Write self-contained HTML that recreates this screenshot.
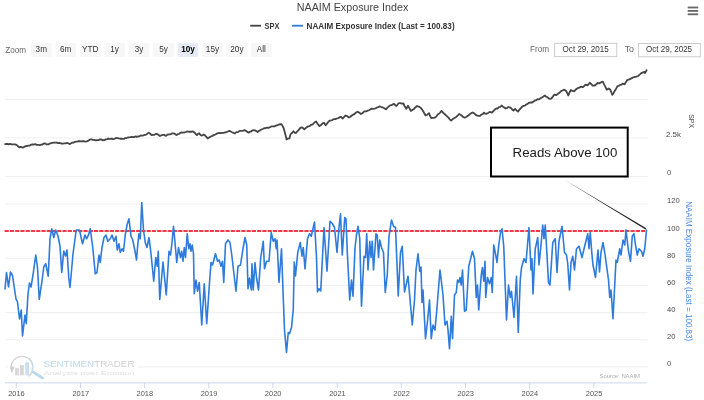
<!DOCTYPE html>
<html><head><meta charset="utf-8"><style>
html,body{margin:0;padding:0;background:#ffffff;}
body{width:704px;height:400px;overflow:hidden;}
svg{display:block;font-family:"Liberation Sans", sans-serif;filter:blur(0.3px);}
</style></head><body>
<svg width="704" height="400" viewBox="0 0 704 400">
<rect width="704" height="400" fill="#ffffff"/>
<text x="352.5" y="10.9" font-size="10.2" fill="#444444" font-weight="400" text-anchor="middle" textLength="111.5" lengthAdjust="spacingAndGlyphs" >NAAIM Exposure Index</text>
<line x1="250.2" y1="25.7" x2="261" y2="25.7" stroke="#434348" stroke-width="1.8"/>
<text x="264.6" y="28.8" font-size="8.2" fill="#333333" font-weight="700" text-anchor="start" textLength="14.8" lengthAdjust="spacingAndGlyphs" >SPX</text>
<line x1="292" y1="25.7" x2="303" y2="25.7" stroke="#2e7cdc" stroke-width="1.8"/>
<text x="306.6" y="28.8" font-size="8.2" fill="#333333" font-weight="700" text-anchor="start" textLength="148" lengthAdjust="spacingAndGlyphs" >NAAIM Exposure Index (Last = 100.83)</text>
<line x1="687.7" y1="7.5" x2="698.2" y2="7.5" stroke="#666666" stroke-width="1.8"/>
<line x1="687.7" y1="10.9" x2="698.2" y2="10.9" stroke="#666666" stroke-width="1.8"/>
<line x1="687.7" y1="14.3" x2="698.2" y2="14.3" stroke="#666666" stroke-width="1.8"/>
<text x="5.2" y="53" font-size="8.2" fill="#666666" font-weight="400" text-anchor="start" textLength="20.8" lengthAdjust="spacingAndGlyphs" >Zoom</text>
<rect x="31.00" y="43.1" width="20.6" height="13.8" fill="#f7f7f7"/>
<text x="41.3" y="52.2" font-size="8.2" fill="#333333" font-weight="400" text-anchor="middle" >3m</text>
<rect x="55.45" y="43.1" width="20.6" height="13.8" fill="#f7f7f7"/>
<text x="65.75" y="52.2" font-size="8.2" fill="#333333" font-weight="400" text-anchor="middle" >6m</text>
<rect x="79.90" y="43.1" width="20.6" height="13.8" fill="#f7f7f7"/>
<text x="90.2" y="52.2" font-size="8.2" fill="#333333" font-weight="400" text-anchor="middle" >YTD</text>
<rect x="104.35" y="43.1" width="20.6" height="13.8" fill="#f7f7f7"/>
<text x="114.65" y="52.2" font-size="8.2" fill="#333333" font-weight="400" text-anchor="middle" >1y</text>
<rect x="128.80" y="43.1" width="20.6" height="13.8" fill="#f7f7f7"/>
<text x="139.1" y="52.2" font-size="8.2" fill="#333333" font-weight="400" text-anchor="middle" >3y</text>
<rect x="153.25" y="43.1" width="20.6" height="13.8" fill="#f7f7f7"/>
<text x="163.55" y="52.2" font-size="8.2" fill="#333333" font-weight="400" text-anchor="middle" >5y</text>
<rect x="177.70" y="43.1" width="20.6" height="13.8" fill="#e6ebf5"/>
<text x="188.0" y="52.2" font-size="8.2" fill="#000000" font-weight="700" text-anchor="middle" >10y</text>
<rect x="202.15" y="43.1" width="20.6" height="13.8" fill="#f7f7f7"/>
<text x="212.45" y="52.2" font-size="8.2" fill="#333333" font-weight="400" text-anchor="middle" >15y</text>
<rect x="226.60" y="43.1" width="20.6" height="13.8" fill="#f7f7f7"/>
<text x="236.9" y="52.2" font-size="8.2" fill="#333333" font-weight="400" text-anchor="middle" >20y</text>
<rect x="251.05" y="43.1" width="20.6" height="13.8" fill="#f7f7f7"/>
<text x="261.35" y="52.2" font-size="8.2" fill="#333333" font-weight="400" text-anchor="middle" >All</text>
<text x="530" y="52.4" font-size="8.2" fill="#666666" font-weight="400" text-anchor="start" textLength="19.1" lengthAdjust="spacingAndGlyphs" >From</text>
<rect x="554.6" y="43.3" width="62.2" height="13.3" fill="#ffffff" stroke="#cccccc" stroke-width="1"/>
<text x="585.7" y="52.4" font-size="8.2" fill="#333333" font-weight="400" text-anchor="middle" textLength="46.2" lengthAdjust="spacingAndGlyphs" >Oct 29, 2015</text>
<text x="624.7" y="52.4" font-size="8.2" fill="#666666" font-weight="400" text-anchor="start" textLength="9.3" lengthAdjust="spacingAndGlyphs" >To</text>
<rect x="638.5" y="43.5" width="61.8" height="13.3" fill="#ffffff" stroke="#cccccc" stroke-width="1"/>
<text x="669.05" y="52.4" font-size="8.2" fill="#333333" font-weight="400" text-anchor="middle" textLength="46.1" lengthAdjust="spacingAndGlyphs" >Oct 29, 2025</text>
<line x1="5" y1="99.3" x2="647.5" y2="99.3" stroke="#ededed" stroke-width="0.9"/>
<line x1="5" y1="137.9" x2="647.5" y2="137.9" stroke="#ededed" stroke-width="0.9"/>
<line x1="5" y1="176.5" x2="647.5" y2="176.5" stroke="#ededed" stroke-width="0.9"/>
<line x1="5" y1="203.94" x2="647.5" y2="203.94" stroke="#ededed" stroke-width="0.9"/>
<line x1="5" y1="231.10" x2="647.5" y2="231.10" stroke="#ededed" stroke-width="0.9"/>
<line x1="5" y1="258.26" x2="647.5" y2="258.26" stroke="#ededed" stroke-width="0.9"/>
<line x1="5" y1="285.42" x2="647.5" y2="285.42" stroke="#ededed" stroke-width="0.9"/>
<line x1="5" y1="312.58" x2="647.5" y2="312.58" stroke="#ededed" stroke-width="0.9"/>
<line x1="5" y1="339.74" x2="647.5" y2="339.74" stroke="#ededed" stroke-width="0.9"/>
<line x1="5" y1="366.90" x2="647.5" y2="366.90" stroke="#ededed" stroke-width="0.9"/>
<text x="666" y="136.9" font-size="7.6" fill="#4a4a4a" font-weight="400" text-anchor="start" textLength="15" lengthAdjust="spacingAndGlyphs" >2.5k</text>
<text x="667" y="175.2" font-size="7.6" fill="#4a4a4a" font-weight="400" text-anchor="start" >0</text>
<text transform="translate(689,114.3) rotate(90)" font-size="7.8" fill="#4a4a4a" textLength="13.7" lengthAdjust="spacingAndGlyphs">SPX</text>
<text x="667" y="203" font-size="7.6" fill="#4a4a4a" font-weight="400" text-anchor="start" textLength="12.6" lengthAdjust="spacingAndGlyphs" >120</text>
<text x="667" y="230.5" font-size="7.6" fill="#4a4a4a" font-weight="400" text-anchor="start" textLength="12.6" lengthAdjust="spacingAndGlyphs" >100</text>
<text x="667" y="257.6" font-size="7.6" fill="#4a4a4a" font-weight="400" text-anchor="start" textLength="8.4" lengthAdjust="spacingAndGlyphs" >80</text>
<text x="667" y="284.6" font-size="7.6" fill="#4a4a4a" font-weight="400" text-anchor="start" textLength="8.4" lengthAdjust="spacingAndGlyphs" >60</text>
<text x="667" y="311.5" font-size="7.6" fill="#4a4a4a" font-weight="400" text-anchor="start" textLength="8.4" lengthAdjust="spacingAndGlyphs" >40</text>
<text x="667" y="338.6" font-size="7.6" fill="#4a4a4a" font-weight="400" text-anchor="start" textLength="8.4" lengthAdjust="spacingAndGlyphs" >20</text>
<text x="667" y="365.6" font-size="7.6" fill="#4a4a4a" font-weight="400" text-anchor="start" >0</text>
<text transform="translate(686.3,201.2) rotate(90)" font-size="8.2" fill="#4a8ae0" textLength="140" lengthAdjust="spacingAndGlyphs">NAAIM Exposure Index (Last = 100.83)</text>
<line x1="5" y1="382.9" x2="646.6" y2="382.9" stroke="#ccd6eb" stroke-width="1"/>
<line x1="16.24" y1="382.9" x2="16.24" y2="388.3" stroke="#ccd6eb" stroke-width="1"/>
<text x="16.44" y="395.7" font-size="7.5" fill="#555555" font-weight="400" text-anchor="middle" textLength="16.6" lengthAdjust="spacingAndGlyphs" >2016</text>
<line x1="80.55" y1="382.9" x2="80.55" y2="388.3" stroke="#ccd6eb" stroke-width="1"/>
<text x="80.75" y="395.7" font-size="7.5" fill="#555555" font-weight="400" text-anchor="middle" textLength="16.6" lengthAdjust="spacingAndGlyphs" >2017</text>
<line x1="144.67" y1="382.9" x2="144.67" y2="388.3" stroke="#ccd6eb" stroke-width="1"/>
<text x="144.87" y="395.7" font-size="7.5" fill="#555555" font-weight="400" text-anchor="middle" textLength="16.6" lengthAdjust="spacingAndGlyphs" >2018</text>
<line x1="208.80" y1="382.9" x2="208.80" y2="388.3" stroke="#ccd6eb" stroke-width="1"/>
<text x="209.0" y="395.7" font-size="7.5" fill="#555555" font-weight="400" text-anchor="middle" textLength="16.6" lengthAdjust="spacingAndGlyphs" >2019</text>
<line x1="272.93" y1="382.9" x2="272.93" y2="388.3" stroke="#ccd6eb" stroke-width="1"/>
<text x="273.13" y="395.7" font-size="7.5" fill="#555555" font-weight="400" text-anchor="middle" textLength="16.6" lengthAdjust="spacingAndGlyphs" >2020</text>
<line x1="337.23" y1="382.9" x2="337.23" y2="388.3" stroke="#ccd6eb" stroke-width="1"/>
<text x="337.43" y="395.7" font-size="7.5" fill="#555555" font-weight="400" text-anchor="middle" textLength="16.6" lengthAdjust="spacingAndGlyphs" >2021</text>
<line x1="401.36" y1="382.9" x2="401.36" y2="388.3" stroke="#ccd6eb" stroke-width="1"/>
<text x="401.56" y="395.7" font-size="7.5" fill="#555555" font-weight="400" text-anchor="middle" textLength="16.6" lengthAdjust="spacingAndGlyphs" >2022</text>
<line x1="465.48" y1="382.9" x2="465.48" y2="388.3" stroke="#ccd6eb" stroke-width="1"/>
<text x="465.68" y="395.7" font-size="7.5" fill="#555555" font-weight="400" text-anchor="middle" textLength="16.6" lengthAdjust="spacingAndGlyphs" >2023</text>
<line x1="529.61" y1="382.9" x2="529.61" y2="388.3" stroke="#ccd6eb" stroke-width="1"/>
<text x="529.81" y="395.7" font-size="7.5" fill="#555555" font-weight="400" text-anchor="middle" textLength="16.6" lengthAdjust="spacingAndGlyphs" >2024</text>
<line x1="593.91" y1="382.9" x2="593.91" y2="388.3" stroke="#ccd6eb" stroke-width="1"/>
<text x="594.11" y="395.7" font-size="7.5" fill="#555555" font-weight="400" text-anchor="middle" textLength="16.6" lengthAdjust="spacingAndGlyphs" >2025</text>
<rect x="8" y="354" width="130" height="27" fill="#ffffff"/>
<path d="M12.2 372.5 A11 11 0 1 1 28.5 376.3" fill="none" stroke="#d2d2d2" stroke-width="1.3"/><path d="M9.8 366.5 L12.4 371.8 L14.6 366.8 Z" fill="#cfcfcf"/><path d="M29.5 358.8 A11 11 0 0 1 31.9 370" fill="none" stroke="#c5dceb" stroke-width="1.3"/><rect x="15.1" y="368.1" width="3.8" height="7.2" fill="#dadada"/><rect x="20" y="365.1" width="3.8" height="10.2" fill="#d6d6d6"/><rect x="25.2" y="362.1" width="3.8" height="13.2" rx="1.5" fill="#c9dff0"/><line x1="33.5" y1="372.3" x2="42.5" y2="377.9" stroke="#bcd8ea" stroke-width="3" stroke-linecap="round"/>
<text x="43.5" y="367.3" font-size="9.8" fill="#333333" font-weight="400" text-anchor="start" textLength="91" lengthAdjust="spacingAndGlyphs" ><tspan fill="#bcd6ea">SENTIMEN</tspan><tspan fill="#cfcfcf">TRADER</tspan></text>
<text x="43.5" y="374.9" font-size="5.6" fill="#e0e0e0" font-weight="400" text-anchor="start" textLength="91" lengthAdjust="spacingAndGlyphs" >Analysis over Emotion</text>
<text x="599.5" y="377.6" font-size="6" fill="#aaaaaa" font-weight="400" text-anchor="start" textLength="40.5" lengthAdjust="spacingAndGlyphs" >Source: NAAIM</text>
<line x1="4.6" y1="231" x2="646.6" y2="231" stroke="#f03a48" stroke-width="1.9" stroke-dasharray="4.2 1.06"/>
<path d="M5.10 144.10 L6.36 144.00 L7.62 143.91 L8.88 144.42 L10.14 143.96 L11.40 144.40 L12.70 144.43 L14.00 144.28 L15.30 144.40 L16.63 144.97 L17.97 146.34 L19.30 147.30 L20.63 146.95 L21.97 147.37 L23.30 147.50 L24.57 146.64 L25.85 146.18 L27.12 146.01 L28.40 145.60 L29.76 145.59 L31.12 144.66 L32.48 144.45 L33.84 144.51 L35.20 144.10 L36.73 144.87 L38.27 144.90 L39.80 145.20 L41.12 144.57 L42.43 144.56 L43.75 143.60 L45.27 143.46 L46.78 144.46 L48.30 144.40 L49.45 143.66 L50.60 143.30 L52.15 142.83 L53.70 142.66 L55.25 142.68 L56.80 142.70 L58.07 143.18 L59.35 142.81 L60.62 143.37 L61.90 143.50 L63.16 143.59 L64.42 143.31 L65.68 143.42 L66.94 142.95 L68.20 143.30 L69.90 144.10 L71.18 143.13 L72.45 142.69 L73.72 142.54 L75.00 141.80 L76.50 141.55 L78.00 141.27 L79.50 141.25 L80.96 141.36 L82.42 141.27 L83.88 141.16 L85.34 141.63 L86.80 141.40 L88.50 140.58 L90.20 139.40 L91.56 139.33 L92.92 139.79 L94.28 139.90 L95.64 140.38 L97.00 140.20 L98.33 140.14 L99.67 139.48 L101.00 139.40 L102.70 140.23 L104.40 140.20 L105.73 139.32 L107.07 139.06 L108.40 138.60 L109.93 139.00 L111.47 138.62 L113.00 139.10 L114.50 138.76 L116.00 138.02 L117.50 138.10 L118.78 138.45 L120.05 138.74 L121.32 138.77 L122.60 138.90 L123.88 138.89 L125.15 138.03 L126.42 138.03 L127.70 137.50 L129.03 137.40 L130.37 137.21 L131.70 136.91 L133.03 137.07 L134.37 136.98 L135.70 136.40 L136.80 136.80 L138.13 136.46 L139.47 136.31 L140.80 135.45 L142.13 135.71 L143.47 135.35 L144.80 134.90 L146.12 134.58 L147.43 133.66 L148.75 132.60 L150.18 133.71 L151.60 135.20 L153.03 134.82 L154.45 134.80 L155.88 133.95 L157.30 134.10 L158.65 135.02 L160.00 136.00 L161.33 135.30 L162.67 134.86 L164.00 134.80 L165.70 135.90 L167.40 134.70 L169.10 134.30 L170.60 134.24 L172.10 133.37 L173.60 133.40 L175.05 134.02 L176.50 135.10 L177.83 134.24 L179.17 133.90 L180.50 132.80 L181.80 132.32 L183.10 132.55 L184.40 132.50 L185.85 131.99 L187.30 131.40 L188.73 131.75 L190.15 131.69 L191.57 131.73 L193.00 131.40 L194.30 132.43 L195.60 133.79 L196.90 135.10 L198.05 134.02 L199.20 133.20 L200.35 134.70 L201.50 135.50 L202.62 135.41 L203.75 134.50 L205.07 135.52 L206.38 136.88 L207.70 138.50 L209.23 137.39 L210.77 136.53 L212.30 135.90 L213.80 135.12 L215.30 134.45 L216.80 133.60 L218.16 133.23 L219.52 132.83 L220.88 133.05 L222.24 132.84 L223.60 132.80 L225.03 132.38 L226.45 132.26 L227.88 131.55 L229.30 130.90 L230.73 131.54 L232.15 132.26 L233.57 132.93 L235.00 133.40 L236.50 132.17 L238.00 132.09 L239.50 130.90 L240.75 130.95 L242.00 130.84 L243.25 130.57 L244.50 130.10 L245.83 130.87 L247.17 131.74 L248.50 132.70 L249.78 131.69 L251.05 131.52 L252.32 130.36 L253.60 130.10 L254.93 130.34 L256.27 131.10 L257.60 132.00 L258.88 130.95 L260.15 130.36 L261.43 129.35 L262.70 129.00 L264.12 128.25 L265.55 128.09 L266.97 127.74 L268.40 127.80 L269.93 127.21 L271.47 126.44 L273.00 126.40 L274.50 126.34 L276.00 125.70 L277.50 125.20 L278.83 124.52 L280.17 124.24 L281.50 124.10 L282.62 126.11 L283.75 128.40 L285.18 133.83 L286.60 139.50 L288.00 138.61 L289.40 138.40 L290.60 134.10 L292.00 132.99 L293.40 131.25 L294.55 132.57 L295.70 133.00 L297.12 131.54 L298.55 130.14 L299.97 128.35 L301.40 127.30 L302.80 127.94 L304.20 129.30 L305.53 128.19 L306.87 127.15 L308.20 126.40 L309.70 126.03 L311.20 124.76 L312.70 124.40 L314.40 122.47 L316.10 121.40 L317.80 124.16 L319.50 126.10 L321.00 124.99 L322.50 123.52 L324.00 122.70 L325.70 125.30 L327.10 123.49 L328.50 121.60 L329.77 120.55 L331.05 120.38 L332.33 120.16 L333.60 119.10 L335.30 119.13 L337.00 118.50 L338.33 118.11 L339.67 117.15 L341.00 116.80 L342.70 118.50 L344.15 116.88 L345.60 115.50 L347.30 116.15 L349.00 117.40 L350.40 116.69 L351.80 115.50 L353.23 114.58 L354.65 113.85 L356.07 112.50 L357.50 111.70 L359.20 112.60 L360.90 114.00 L362.60 112.98 L364.30 111.40 L366.00 111.44 L367.70 110.60 L369.03 110.25 L370.37 109.54 L371.70 108.60 L373.03 108.79 L374.37 108.62 L375.70 108.30 L377.03 107.42 L378.37 107.05 L379.70 106.40 L381.25 107.02 L382.80 107.48 L384.35 108.23 L385.90 109.40 L387.23 107.90 L388.57 106.58 L389.90 105.50 L391.23 105.09 L392.57 104.74 L393.90 103.75 L395.00 104.83 L396.10 106.00 L397.25 105.09 L398.40 103.40 L400.00 103.00 L401.70 103.64 L403.40 103.40 L404.82 106.56 L406.25 108.90 L408.00 105.70 L409.40 108.18 L410.80 110.90 L412.20 109.90 L413.60 109.40 L415.30 107.45 L417.00 106.00 L418.75 106.58 L420.50 107.70 L421.90 109.28 L423.30 111.40 L424.45 113.56 L425.60 115.50 L427.30 114.71 L429.00 113.20 L430.12 116.01 L431.25 118.20 L432.57 117.91 L433.88 117.80 L435.20 117.40 L436.46 116.37 L437.72 114.43 L438.98 113.64 L440.24 112.57 L441.50 110.90 L442.83 112.45 L444.17 113.73 L445.50 114.80 L446.90 116.21 L448.30 117.36 L449.70 119.34 L451.10 120.50 L452.80 119.10 L454.50 118.00 L456.03 116.94 L457.57 115.76 L459.10 114.00 L460.53 114.83 L461.95 115.76 L463.38 117.18 L464.80 117.70 L466.50 116.80 L468.20 115.50 L469.70 114.20 L471.20 113.16 L472.70 112.50 L474.40 113.49 L476.10 115.10 L477.40 115.73 L478.70 115.91 L480.00 115.90 L481.33 114.51 L482.67 114.06 L484.00 112.70 L485.12 113.73 L486.25 113.90 L487.98 113.04 L489.70 111.90 L490.80 112.17 L491.90 112.70 L493.60 110.94 L495.30 109.10 L496.45 108.47 L497.60 108.50 L498.93 107.06 L500.27 106.92 L501.60 105.50 L502.93 106.63 L504.27 107.52 L505.60 108.50 L507.00 108.14 L508.40 107.00 L509.55 107.29 L510.70 107.70 L512.10 109.43 L513.50 110.50 L515.20 108.90 L516.60 110.54 L518.00 111.60 L519.53 109.56 L521.07 107.81 L522.60 106.25 L523.75 105.79 L524.90 105.70 L526.23 104.50 L527.57 103.84 L528.90 102.80 L530.60 102.43 L532.30 102.50 L533.57 101.58 L534.85 100.47 L536.12 100.32 L537.40 99.10 L539.10 99.40 L540.52 98.29 L541.95 97.41 L543.38 96.55 L544.80 95.50 L546.07 96.71 L547.35 97.13 L548.62 98.43 L549.90 98.90 L551.60 98.30 L553.00 96.40 L554.40 94.50 L556.10 95.20 L557.40 94.23 L558.70 93.22 L560.00 92.20 L561.27 90.93 L562.53 90.48 L563.80 89.70 L565.10 90.21 L566.40 91.30 L568.30 95.50 L569.60 92.30 L570.90 90.00 L572.50 90.92 L574.10 91.30 L575.70 89.56 L577.30 88.40 L578.57 87.78 L579.83 87.40 L581.10 86.60 L583.00 87.10 L584.30 85.90 L585.60 84.60 L587.50 85.30 L588.75 83.89 L590.00 82.80 L591.30 84.22 L592.60 85.60 L593.90 85.50 L595.20 85.30 L596.45 84.31 L597.70 82.80 L599.60 83.30 L601.20 82.15 L602.80 81.70 L604.10 84.42 L605.40 86.81 L606.70 89.70 L608.60 88.40 L609.90 89.20 L611.15 91.80 L612.40 94.80 L613.67 92.90 L614.95 90.51 L616.23 88.41 L617.50 86.20 L618.80 85.78 L620.10 84.90 L621.40 84.67 L622.70 83.70 L624.60 84.30 L625.85 82.20 L627.10 80.20 L628.70 79.65 L630.30 78.90 L631.90 78.10 L633.50 77.30 L635.00 76.88 L636.50 76.61 L638.00 76.00 L639.27 74.89 L640.53 73.90 L641.80 72.80 L643.10 72.33 L644.40 71.90 L645.00 73.00 L646.60 70.20" fill="none" stroke="#454545" stroke-width="1.8" stroke-linejoin="round" stroke-linecap="round"/>
<path d="M5.00 289.00 L6.50 272.50 L8.50 287.00 L10.50 272.00 L12.50 275.50 L16.00 299.00 L17.50 302.00 L19.50 319.00 L21.25 310.00 L22.50 336.00 L25.00 315.00 L26.25 323.75 L28.00 294.00 L29.50 283.00 L31.00 287.00 L33.00 275.00 L35.75 255.00 L37.50 267.50 L39.25 299.50 L42.00 281.00 L43.75 267.00 L45.75 263.75 L48.25 276.25 L50.00 238.75 L51.75 228.75 L53.75 237.50 L55.75 230.00 L58.00 236.00 L60.00 246.00 L61.75 272.50 L63.75 251.00 L65.50 256.00 L67.00 250.00 L68.75 277.50 L70.00 287.50 L73.00 253.75 L76.25 230.00 L79.50 230.00 L82.50 243.75 L85.00 235.00 L86.50 238.75 L88.50 235.00 L90.25 228.75 L92.75 247.50 L95.25 273.75 L97.00 272.50 L99.00 255.00 L100.25 262.50 L102.00 247.50 L104.00 237.50 L106.00 235.00 L107.75 241.25 L110.25 238.75 L112.00 235.00 L114.00 241.25 L116.00 236.25 L117.25 250.00 L119.00 243.75 L120.25 252.50 L122.00 248.75 L123.50 251.25 L125.25 235.00 L127.00 225.00 L129.00 218.75 L131.00 236.25 L132.75 240.00 L135.25 252.50 L136.50 260.00 L137.75 245.00 L139.00 233.75 L140.25 238.75 L141.75 202.50 L143.50 230.00 L145.25 242.50 L147.00 247.50 L149.00 237.50 L151.00 253.75 L153.75 281.25 L155.75 257.50 L157.25 266.25 L158.25 251.25 L159.75 299.50 L163.00 262.00 L166.25 295.00 L169.00 251.25 L170.50 255.00 L171.75 245.00 L173.50 226.25 L175.00 242.50 L176.75 262.50 L178.50 247.50 L180.50 257.50 L181.75 251.25 L183.00 261.25 L184.25 247.50 L185.50 257.50 L187.25 233.75 L188.75 248.75 L190.00 243.75 L191.00 251.25 L192.25 245.00 L193.50 253.75 L194.25 293.75 L196.00 280.00 L197.50 291.25 L199.25 282.50 L201.75 325.00 L204.25 283.75 L206.75 323.75 L209.25 286.25 L211.00 262.50 L212.50 265.00 L215.50 253.75 L217.50 261.25 L219.25 260.00 L221.00 266.25 L222.50 261.25 L223.75 282.50 L225.50 243.75 L228.00 240.00 L230.00 242.50 L231.75 255.00 L233.50 270.00 L236.00 291.25 L238.00 266.25 L240.50 265.00 L243.00 248.75 L245.00 237.50 L246.75 245.00 L248.00 288.75 L249.50 278.00 L251.25 290.00 L252.00 263.75 L253.25 290.00 L255.00 262.50 L256.50 277.50 L258.50 290.00 L260.75 257.50 L263.25 241.25 L264.50 268.75 L266.50 261.25 L269.00 261.25 L271.25 232.50 L273.25 241.25 L275.00 238.75 L276.25 248.75 L277.00 240.00 L279.00 282.50 L281.50 248.75 L283.25 297.50 L284.50 330.00 L286.50 352.50 L288.25 332.50 L289.50 333.75 L291.50 327.50 L293.25 310.00 L294.25 262.00 L295.50 276.00 L297.75 252.50 L300.25 242.50 L302.00 256.25 L303.25 247.50 L305.00 269.00 L307.50 238.75 L309.50 233.75 L311.25 236.25 L314.50 222.00 L316.50 257.50 L317.50 292.00 L319.00 288.75 L320.75 291.00 L324.00 227.50 L327.00 271.25 L330.00 221.25 L332.50 223.75 L334.50 227.50 L337.00 252.50 L339.00 227.50 L340.50 213.75 L342.25 255.00 L344.75 217.50 L346.00 218.75 L347.25 251.25 L349.75 300.00 L351.50 280.00 L353.00 296.25 L355.00 248.00 L356.50 235.00 L358.00 226.25 L359.75 238.75 L361.50 306.25 L364.00 256.25 L365.50 257.50 L366.75 233.75 L368.00 270.00 L369.75 241.25 L371.00 257.50 L372.25 241.25 L373.50 270.00 L376.00 233.75 L377.25 235.00 L378.50 257.50 L379.75 240.00 L381.50 247.50 L383.50 252.50 L385.25 292.50 L387.25 275.00 L389.00 236.25 L391.50 220.00 L393.50 226.25 L395.50 227.50 L398.25 296.00 L400.50 252.50 L402.25 246.25 L404.50 292.00 L408.00 276.25 L412.25 325.00 L414.50 300.00 L416.00 270.00 L418.00 253.75 L419.75 271.25 L421.00 267.00 L422.00 302.50 L423.00 290.00 L425.50 338.75 L427.50 321.25 L429.50 300.00 L431.25 338.75 L433.00 325.00 L435.00 330.00 L437.00 307.50 L440.00 270.00 L443.00 295.00 L445.00 325.00 L447.00 321.25 L448.00 330.00 L449.50 348.75 L451.25 316.25 L452.50 338.75 L454.50 295.00 L456.25 292.50 L457.50 280.00 L458.75 282.50 L460.00 277.50 L461.25 285.00 L462.50 270.00 L464.50 311.25 L466.25 310.00 L468.75 266.25 L472.50 251.25 L474.50 258.75 L476.25 297.50 L477.50 285.00 L478.75 310.00 L481.25 275.00 L482.50 267.50 L483.75 281.25 L485.00 261.25 L485.75 297.50 L487.50 277.50 L489.50 283.75 L491.25 277.50 L492.25 292.50 L493.75 245.00 L495.50 253.75 L497.00 262.50 L498.75 245.00 L500.50 232.50 L502.00 228.75 L503.75 246.25 L506.50 320.00 L508.50 285.00 L510.25 297.50 L511.50 291.25 L514.00 317.50 L516.50 276.25 L518.25 332.50 L520.25 280.00 L521.50 267.50 L524.00 258.75 L526.00 262.50 L529.00 227.50 L531.00 270.00 L532.00 258.75 L533.00 294.00 L535.25 248.75 L537.75 237.50 L539.00 265.00 L541.00 245.00 L542.75 225.00 L544.00 238.75 L545.25 225.00 L546.50 246.25 L548.50 282.50 L550.00 285.00 L552.75 242.50 L555.25 238.75 L557.00 272.50 L559.00 241.25 L562.00 226.25 L564.50 252.50 L566.50 255.00 L567.75 263.75 L569.50 290.00 L571.00 262.50 L572.75 256.25 L574.50 270.00 L576.50 248.75 L579.00 246.25 L582.00 257.50 L585.25 243.75 L587.75 233.75 L589.00 248.75 L590.25 232.50 L592.00 255.00 L593.00 265.00 L595.50 277.50 L598.00 250.00 L599.50 272.00 L601.00 252.50 L603.00 242.50 L604.75 252.50 L608.50 280.00 L609.75 297.50 L611.00 290.00 L613.00 318.75 L616.00 260.00 L617.25 262.50 L619.75 248.75 L621.00 255.00 L623.00 240.00 L624.75 245.00 L626.00 230.00 L628.50 251.25 L630.50 261.25 L632.25 236.25 L634.00 233.75 L635.50 245.00 L637.25 255.00 L639.00 248.75 L641.50 251.25 L643.00 256.25 L644.75 248.75 L646.50 230.00" fill="none" stroke="#2e7bdc" stroke-width="1.6" stroke-linejoin="round" stroke-linecap="round"/>
<rect x="491" y="127.6" width="136.7" height="48.9" fill="none" stroke="#000000" stroke-width="2"/>
<text x="512.6" y="156.8" font-size="13.2" fill="#1a1a1a" font-weight="400" text-anchor="start" textLength="104.8" lengthAdjust="spacingAndGlyphs" >Reads Above 100</text>
<polygon points="563.5,179.3 646.3,228.2 645.5,229.4" fill="#222222"/>
</svg>
</body></html>
